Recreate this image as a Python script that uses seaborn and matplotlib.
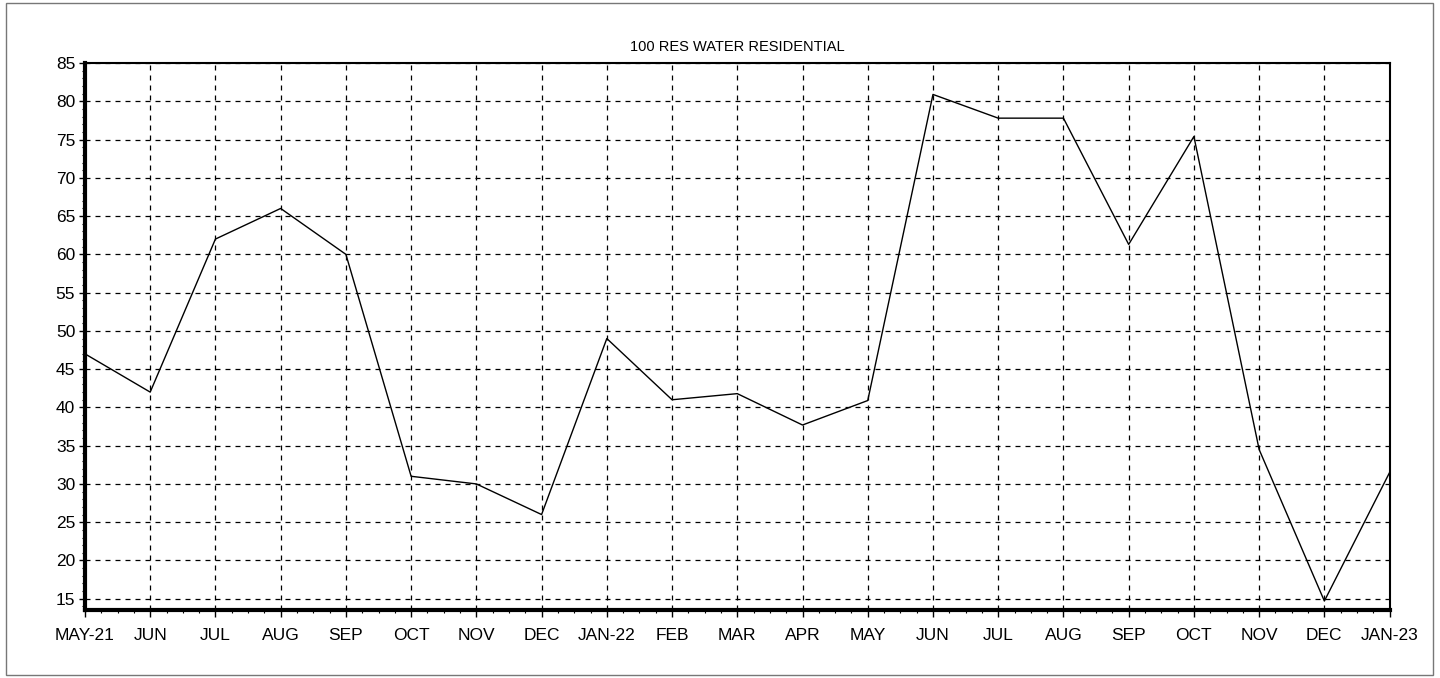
import numpy as np
import pandas as pd
import matplotlib
matplotlib.use("Agg")
import matplotlib.pyplot as plt
from matplotlib.patches import Rectangle
from matplotlib.ticker import MultipleLocator, AutoMinorLocator
import seaborn as sns

months = ["MAY-21", "JUN", "JUL", "AUG", "SEP", "OCT", "NOV", "DEC", "JAN-22",
          "FEB", "MAR", "APR", "MAY", "JUN", "JUL", "AUG", "SEP", "OCT", "NOV",
          "DEC", "JAN-23"]
usage = [47, 42, 62, 66, 60, 31, 30, 26, 49, 41, 41.8, 37.7, 40.9,
         80.9, 77.8, 77.8, 61.3, 75.4, 34.5, 14.7, 31.5]

df = pd.DataFrame({"pos": np.arange(len(months)), "usage": usage})

sns.set_style("white")
plt.rcParams["font.family"] = ["Liberation Sans", "DejaVu Sans"]
plt.rcParams["text.color"] = "black"
plt.rcParams["xtick.color"] = "black"
plt.rcParams["ytick.color"] = "black"

fig = plt.figure(figsize=(14.4, 6.78), dpi=100)
ax = fig.add_axes([0.059, 0.100, 0.906, 0.807])

sns.lineplot(data=df, x="pos", y="usage", color="black", linewidth=1.0, ax=ax)

ax.set_xlim(0, len(months) - 1)
ax.set_ylim(13.5, 85)
ax.set_xticks(df["pos"])
ax.set_xticklabels(months, fontsize=12.5)
ax.set_yticks([15, 20, 25, 30, 35, 40, 45, 50, 55, 60, 65, 70, 75, 80, 85])
ax.yaxis.set_minor_locator(MultipleLocator(1))
ax.xaxis.set_minor_locator(AutoMinorLocator(4))
ax.tick_params(which="both", left=True, bottom=True, colors="black")
ax.tick_params(axis="y", labelsize=12.5, length=4, width=1, direction="out", pad=3)
ax.tick_params(axis="x", length=5, width=1, direction="out", pad=8)
ax.tick_params(which="minor", length=2.5, width=0.8, direction="out")

ax.grid(True, which="major", color="black", linestyle=(0, (4, 4)), linewidth=0.9)
ax.set_axisbelow(True)

for side in ["left", "bottom"]:
    ax.spines[side].set_linewidth(3)
    ax.spines[side].set_color("black")
for side in ["top", "right"]:
    ax.spines[side].set_linewidth(1.5)
    ax.spines[side].set_color("black")

ax.set_xlabel("")
ax.set_ylabel("")
ax.set_title("100 RES WATER RESIDENTIAL", fontsize=10.5, pad=9, color="black")

# thin frame around the whole page
fig.patches.append(Rectangle((0.004, 0.005), 0.991, 0.99, transform=fig.transFigure,
                             fill=False, edgecolor="#777777", linewidth=1))

fig.savefig("out.png", dpi=100)
